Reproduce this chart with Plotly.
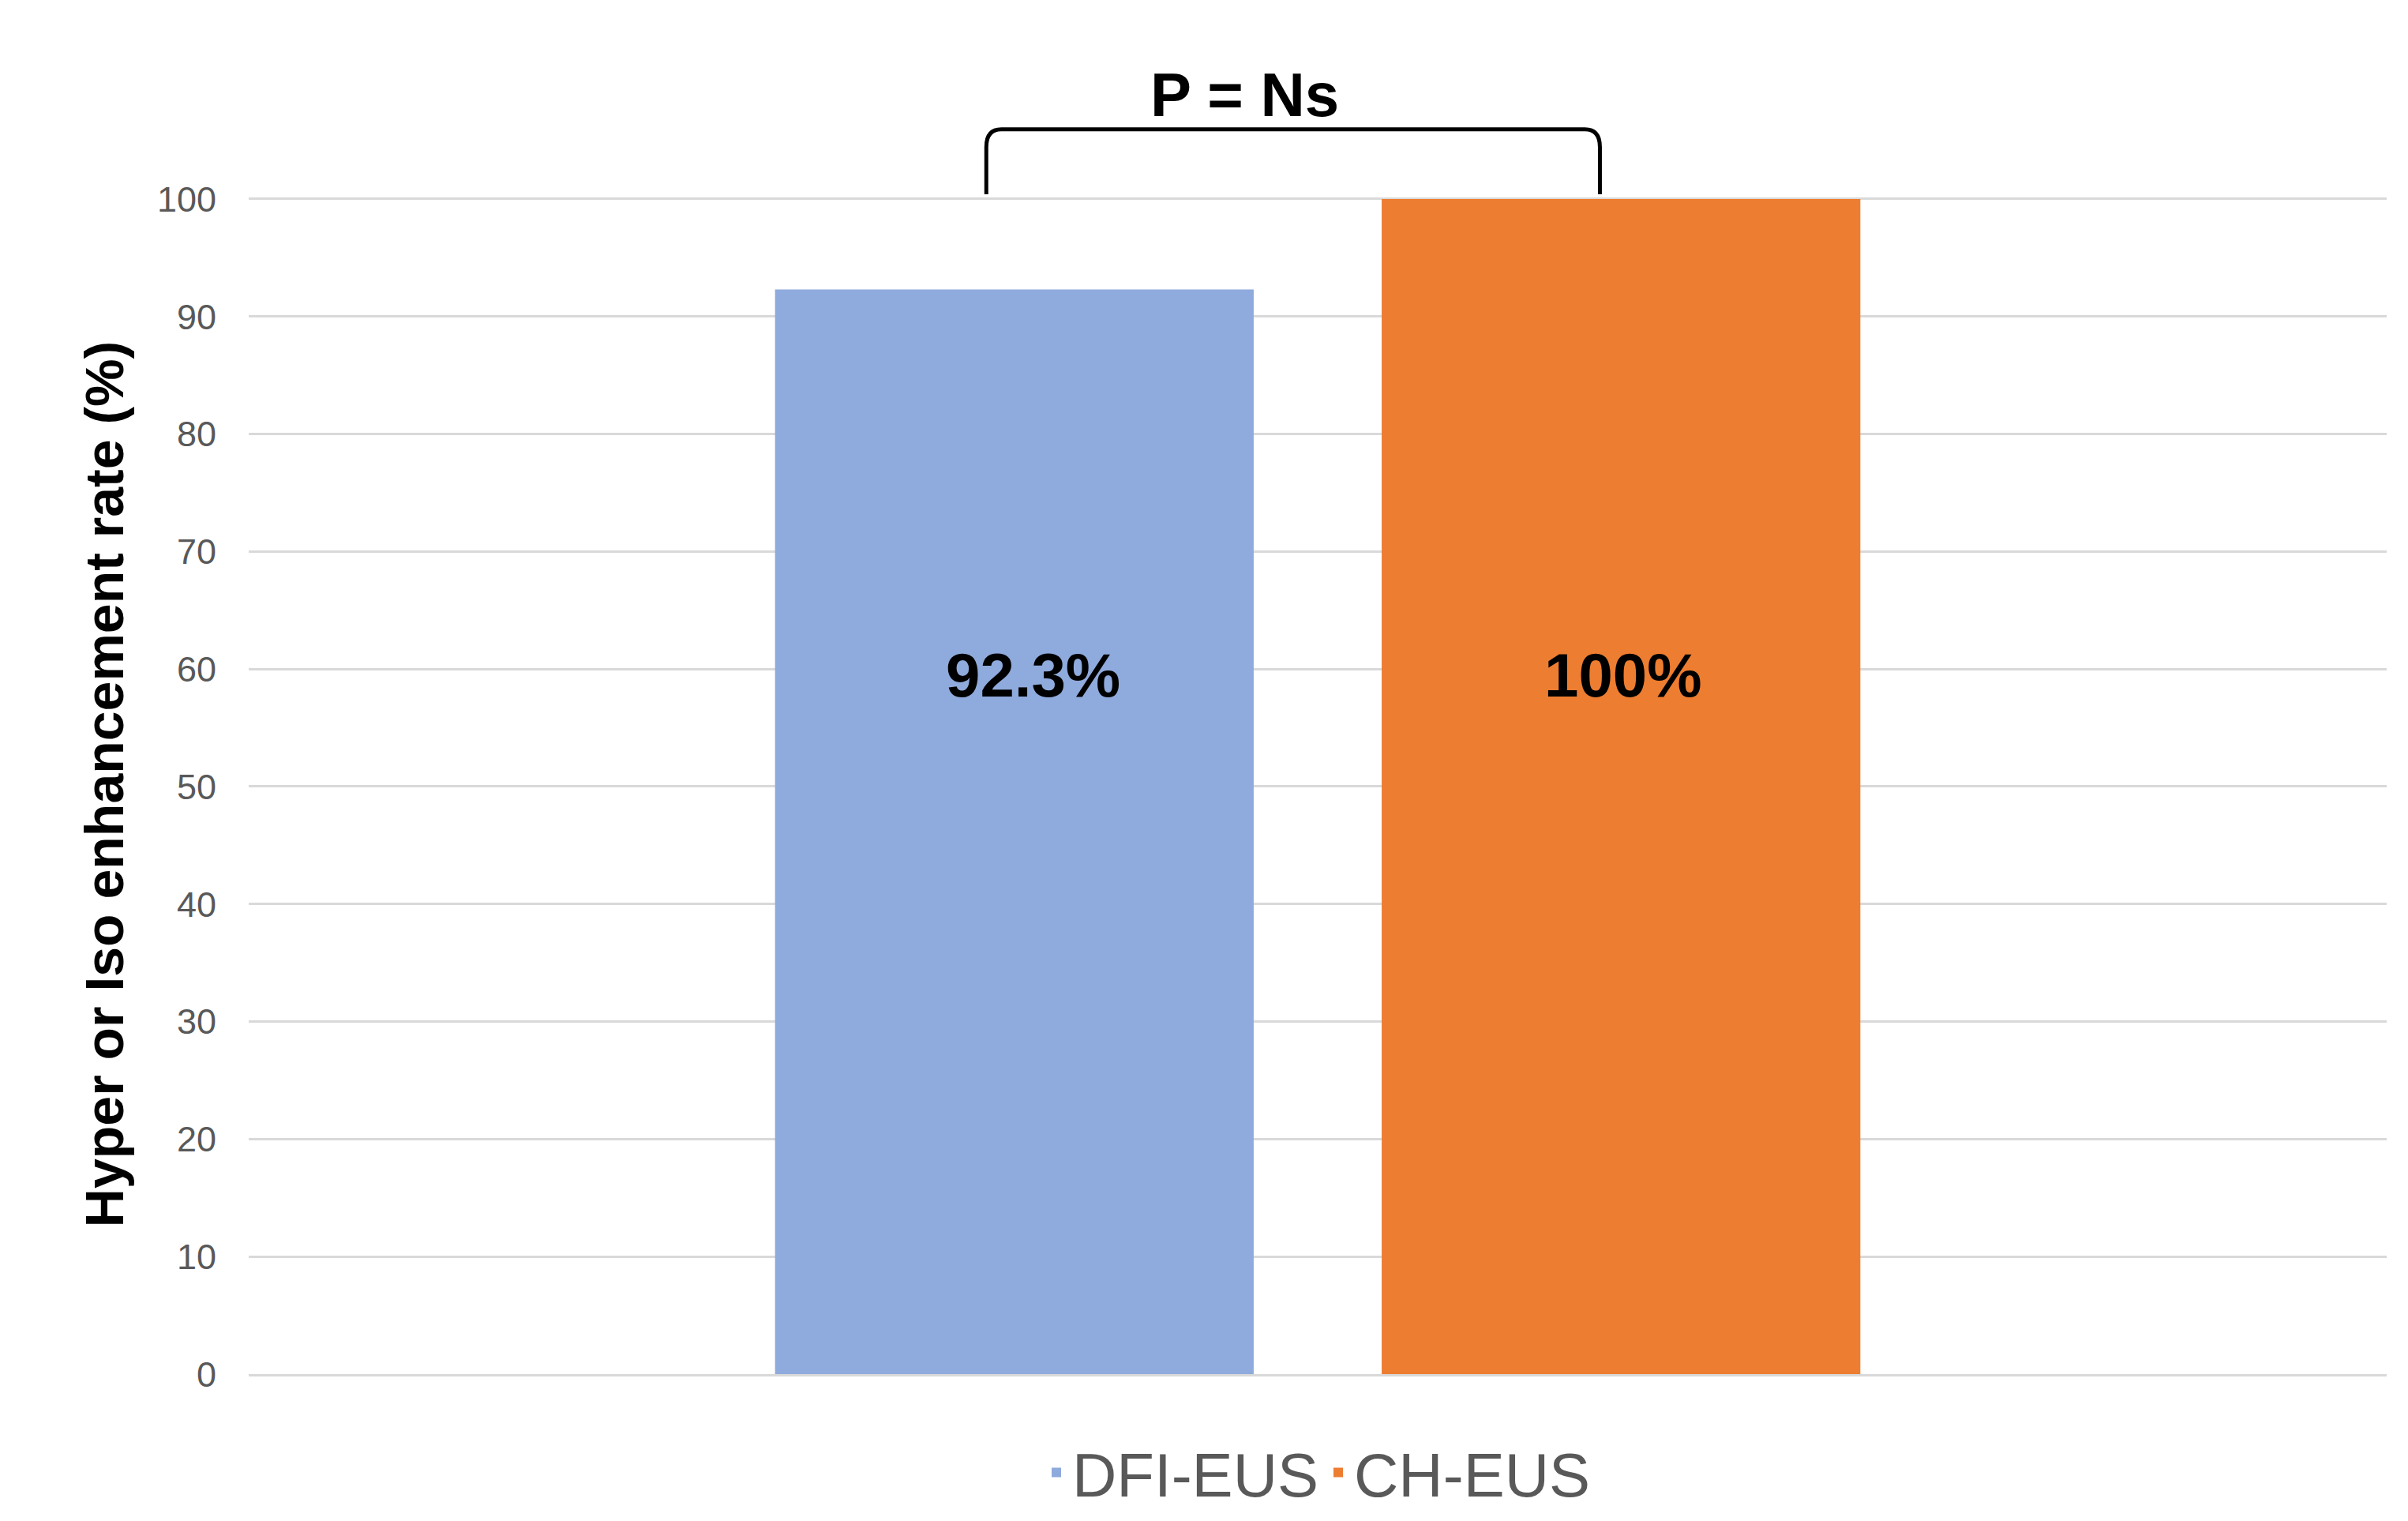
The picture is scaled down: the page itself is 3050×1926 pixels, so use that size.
import plotly.graph_objects as go

category = [""]
series = ["DFI-EUS", "CH-EUS"]
values = [92.3, 100]
labels = ["92.3%", "100%"]
colors = ["#8FAADC", "#ED7D31"]
yticks = list(range(0, 101, 10))

fig = go.Figure()
for s, v, c in zip(series, values, colors):
    fig.add_trace(go.Bar(name=s, x=category, y=[v], marker_color=c, marker_line_width=0, showlegend=False))
for s, c in zip(series, colors):
    fig.add_trace(go.Scatter(name=s, x=[None], y=[None], mode="markers",
                             marker=dict(symbol="square", size=44, color=c)))

for lab, xp in zip(labels, [0.367, 0.643]):
    fig.add_annotation(text="<b>%s</b>" % lab, x=xp, xref="paper", y=59.5, yref="y",
                       showarrow=False, font=dict(size=78, color="black"))

fig.add_annotation(text="<b>P = Ns</b>", x=0.466, xref="paper", y=1.115, yref="paper",
                   showarrow=False, font=dict(size=78, color="black"))
fig.add_shape(type="path", xref="paper", yref="paper",
              path="M 0.345,1.0 L 0.345,1.04 Q 0.345,1.055 0.352,1.055 L 0.625,1.055 Q 0.632,1.055 0.632,1.04 L 0.632,1.0",
              line=dict(color="black", width=5))

fig.update_layout(
    width=3050, height=1926,
    margin=dict(l=307, r=35, t=238, b=194),
    plot_bgcolor="white", paper_bgcolor="white",
    font=dict(family="Liberation Sans, Arial, sans-serif"),
    barmode="group", bargap=0.4325, bargroupgap=0.211,
    showlegend=True,
    legend=dict(orientation="h", x=0.5, xanchor="center", y=-0.045, yanchor="top",
                font=dict(size=78, color="#595959"), itemsizing="constant"),
    xaxis=dict(showticklabels=False, showline=True, linecolor="#D9D9D9", linewidth=3),
    yaxis=dict(range=[0, 100.4], tickvals=yticks, showgrid=True, gridcolor="#D9D9D9", gridwidth=3,
               zeroline=False, tickfont=dict(size=45, color="#595959"), ticklabelstandoff=40,
               title=dict(text="<b>Hyper or Iso enhancement rate (%)</b>", font=dict(size=68, color="black"),
                          standoff=20)),
)
fig.write_html("out.html")
